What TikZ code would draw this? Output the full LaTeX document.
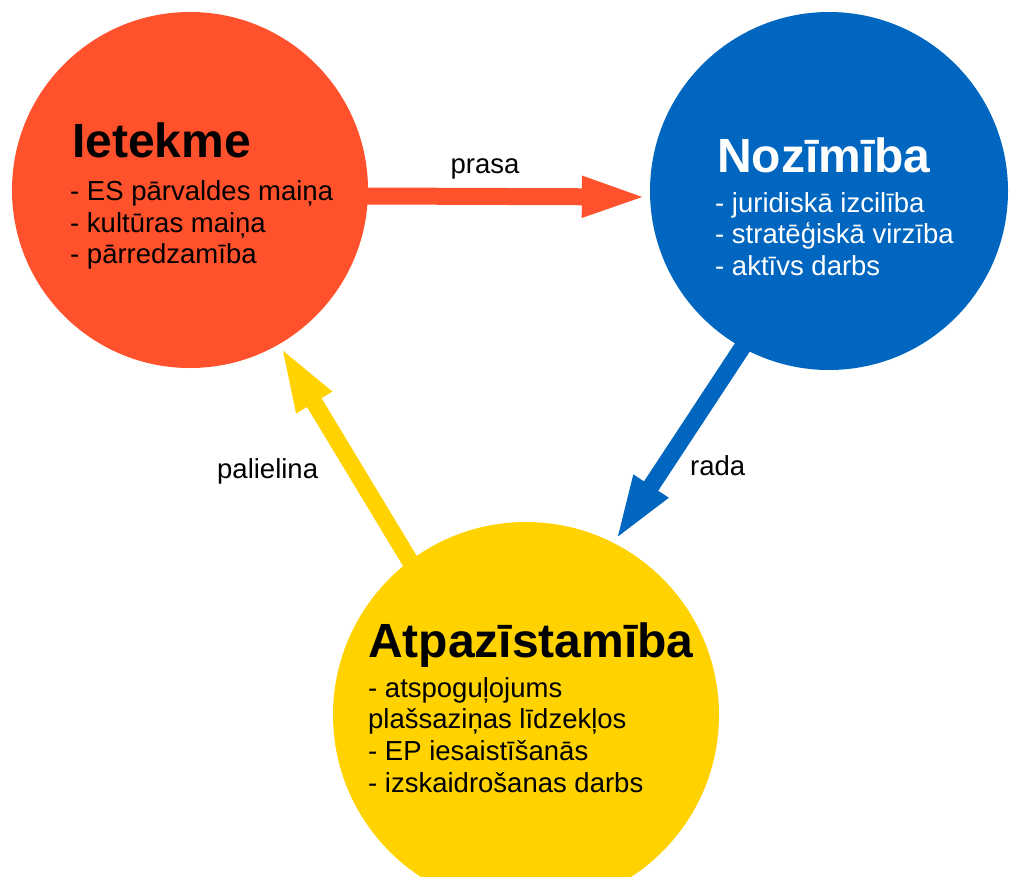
\documentclass[tikz,border=0pt]{standalone}
\usepackage{fontspec}
\setmainfont{Liberation Sans}
\usetikzlibrary{arrows.meta,backgrounds}

\definecolor{ietred}{HTML}{FF512B}
\definecolor{nozblue}{HTML}{0066BF}
\definecolor{atpyellow}{HTML}{FFD200}

\tikzset{
  bubble/.style={circle, inner sep=0pt, draw=none},
  heading/.style={anchor=base west, inner sep=0pt, font=\fontsize{48pt}{53pt}\selectfont\bfseries},
  item/.style={anchor=base west, inner sep=0pt, font=\fontsize{27.5pt}{31pt}\selectfont},
  flow/.style={line width=17pt, shorten <=-25pt, -{Triangle[length=68pt,width=36pt]}}
}

\begin{document}
\begin{tikzpicture}[x=1pt,y=-1pt]

    \useasboundingbox (0,0) rectangle (1011,876);

    % apli
    \node[bubble, fill=ietred, minimum size=356pt] (ietekme) at (190,190) {};
    \node[bubble, fill=nozblue, minimum size=358pt] (nozimiba) at (829,191) {};
    \node[bubble, fill=atpyellow, minimum size=386pt] (atpaz) at (526,715) {};

    % bultas
    \begin{pgfonlayer}{background}
    \draw[flow, ietred] ([yshift=-6pt]ietekme.east) -- ([yshift=-6pt]nozimiba.west);
    \draw[flow, nozblue] (nozimiba.241) -- (atpaz.63);
    \draw[flow, atpyellow] (atpaz.127) -- (ietekme.300);
    \end{pgfonlayer}

    % Ietekme
    \node[heading] (ietHead) at (72,157) {Ietekme};
    \node[item] (iet1) at (70,200) {- ES pārvaldes maiņa};
    \node[item] (iet2) at (70,232) {- kultūras maiņa};
    \node[item] (iet3) at (70,263) {- pārredzamība};

    % Nozimiba
    \node[heading, text=white] (nozHead) at (717,172) {Nozīmība};
    \node[item, text=white] (noz1) at (715,212) {- juridiskā izcilība};
    \node[item, text=white] (noz2) at (715,243) {- stratēģiskā virzība};
    \node[item, text=white] (noz3) at (715,275) {- aktīvs darbs};

    % Atpazistamiba
    \node[heading] (atpHead) at (368,657) {Atpazīstamība};
    \node[item] (atp1) at (368,697) {- atspoguļojums};
    \node[item] (atp2) at (368,728) {plašsaziņas līdzekļos};
    \node[item] (atp3) at (368,760) {- EP iesaistīšanās};
    \node[item] (atp4) at (368,792) {- izskaidrošanas darbs};

    %leyendas
    \node[item, anchor=base] (prasa) at (485,173) {prasa};
    \node[item] (rada) at (690,475) {rada};
    \node[item] (palielina) at (217,478) {palielina};

\end{tikzpicture}
\end{document}
